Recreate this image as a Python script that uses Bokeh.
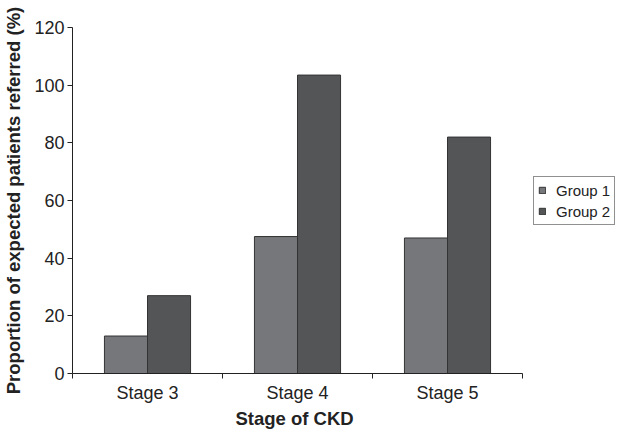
from bokeh.plotting import figure
from bokeh.models import (ColumnDataSource, FixedTicker, Legend, LegendItem,
                          Range1d, Title)
from bokeh.transform import dodge
from bokeh.embed import file_html
from bokeh.resources import INLINE

# Referral proportions by CKD stage
stages = ["Stage 3", "Stage 4", "Stage 5"]
group1 = [13, 47.5, 47]
group2 = [27, 103.5, 82]
y_ticks = [0, 20, 40, 60, 80, 100, 120]

FONT = "Liberation Sans"
C1 = "#76777b"
C2 = "#545557"
EDGE = "#333333"

n = len(stages)
pos = [i + 0.5 for i in range(n)]
src = ColumnDataSource(data=dict(x=pos, stage=stages, g1=group1, g2=group2))

# The frame runs to the right edge so the legend can sit beside the bars;
# the x axis itself is bounded to the category span.
axis_px, frame_px = 450, 548
p = figure(width=620, height=430, output_backend="svg", toolbar_location=None,
           x_range=Range1d(0, n * frame_px / axis_px), y_range=Range1d(0, 120),
           min_border_left=72, min_border_right=0, min_border_top=27,
           min_border_bottom=57)
p.outline_line_color = None
p.grid.visible = False
p.background_fill_color = "white"
p.border_fill_color = "white"

bw = 0.287
r1 = p.vbar(x=dodge("x", -bw / 2), top="g1", width=bw, source=src,
            fill_color=C1, line_color=EDGE, line_width=1)
r2 = p.vbar(x=dodge("x", bw / 2), top="g2", width=bw, source=src,
            fill_color=C2, line_color=EDGE, line_width=1)

# x axis: labels at category centres, tick marks on category boundaries
xa = p.xaxis[0]
xa.bounds = (0, n)
xa.ticker = FixedTicker(ticks=pos, minor_ticks=list(range(n + 1)))
xa.major_label_overrides = {x: s for x, s in zip(pos, stages)}
xa.major_tick_out = 0
xa.major_tick_in = 0
xa.minor_tick_out = 5
xa.minor_tick_in = 0
xa.major_label_standoff = 4

ya = p.yaxis[0]
ya.ticker = FixedTicker(ticks=y_ticks)
ya.major_tick_out = 5
ya.major_tick_in = 0
ya.minor_tick_out = 0
ya.minor_tick_in = 0
ya.major_label_standoff = 3
ya.axis_label = "Proportion of expected patients referred (%)"
ya.axis_label_standoff = 7

for ax in (xa, ya):
    ax.axis_line_color = "#222222"
    ax.major_tick_line_color = "#222222"
    ax.minor_tick_line_color = "#222222"
    ax.major_label_text_font = FONT
    ax.major_label_text_font_size = "18px"
    ax.major_label_text_color = "#222222"
    ax.axis_label_text_font = FONT
    ax.axis_label_text_font_size = "18.5px"
    ax.axis_label_text_font_style = "bold"
    ax.axis_label_text_color = "#222222"

# x axis title, placed under the bounded axis rather than the whole frame
xtitle = Title(text="Stage of CKD", align="left", offset=163,
               text_font=FONT, text_font_size="18.5px", text_font_style="bold",
               text_color="#222222", standoff=0)
p.add_layout(xtitle, "below")

legend = Legend(items=[LegendItem(label="Group 1", renderers=[r1]),
                       LegendItem(label="Group 2", renderers=[r2])],
                location=(461, 148))
legend.margin = 0
legend.padding = 4
legend.spacing = 3
legend.glyph_width = 8
legend.glyph_height = 8
legend.label_standoff = 10
legend.label_height = 18
legend.label_text_font = FONT
legend.label_text_font_size = "15px"
legend.label_text_color = "#222222"
legend.border_line_color = "#222222"
legend.border_line_width = 1
legend.background_fill_color = "white"
p.add_layout(legend, "center")

open("out.html", "w").write(file_html(p, INLINE))
